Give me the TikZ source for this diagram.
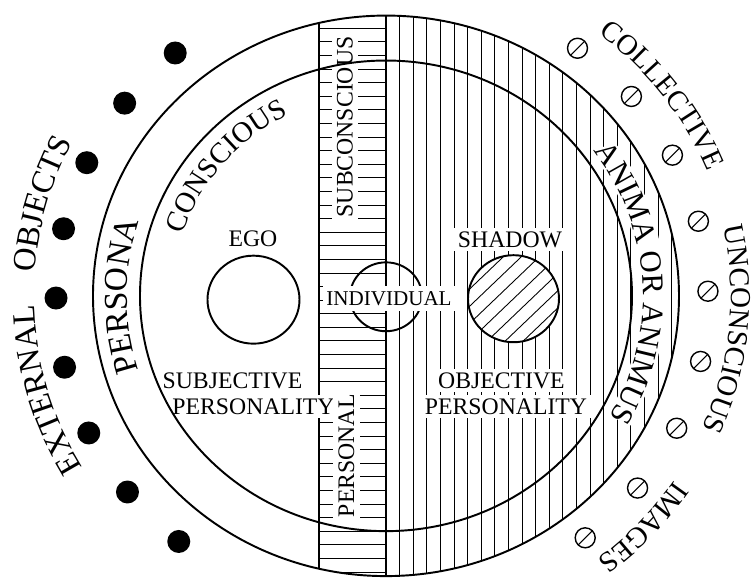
\documentclass[tikz,border=0pt]{standalone}
\usepackage{fontspec}
\setmainfont{Liberation Serif}
\usepackage{tikz}
\usetikzlibrary{decorations.text, calc}

\tikzset{
  ring/.style={line width=1.1pt},
  divider/.style={line width=1.1pt},
  hatch/.style={line width=0.5pt},
  wordband/.style={white, line width=14pt},
  flatlbl/.style={fill=white, inner sep=2pt, font=\fontsize{13.5}{14}\selectfont},
  uplbl/.style={flatlbl, rotate=90, inner xsep=1.5pt, inner ysep=3pt},
  extdot/.style={circle, fill=black, minimum size=0.46cm, inner sep=0pt},
  imgdot/.style={circle, draw, line width=0.8pt, minimum size=0.4cm, inner sep=0pt,
    path picture={\draw[line width=0.6pt] (path picture bounding box.south west)
      -- (path picture bounding box.north east);}}
}

\begin{document}
\begin{tikzpicture}[x=0.02cm, y=0.01914cm]
  \useasboundingbox (-386,-300) rectangle (366,309.3);

  % Hatching and dividers, inside the outer ring
  \begin{scope}
    \clip (0,0) circle[radius=293];
    \foreach \k in {1,...,21}
      \draw[hatch] (13.6*\k,-300) -- (13.6*\k,300);
    \fill[white] (-67,-300) rectangle (0,300);
    \foreach \k in {-1,...,41}
      \draw[hatch] (-67,279.7-14.21*\k) -- (0,279.7-14.21*\k);
    \draw[divider] (0,-300) -- (0,300);
    \draw[divider] (-67,-300) -- (-67,300);
  \end{scope}

  % White room for the words of the right ring
  \draw[wordband] (35.6:267) arc[start angle=35.6, end angle=-29.2, radius=267];

  % Circles inside
  \coordinate (ego) at (-132.5,-4);
  \coordinate (shd) at (127.5,-3);
  \coordinate (ind) at (0,-1);
  \draw[ring] (ego) circle[radius=46];
  \fill[white] (shd) circle[radius=45.5];
  \begin{scope}
    \clip (shd) circle[radius=45.5];
    \foreach \d in {-72,-54,...,72}
      \draw[hatch] ($(shd)+(-60,-60+\d)$) -- ++(120,120);
  \end{scope}
  \draw[ring] (shd) circle[radius=45.5];
  \draw[ring] (ind) circle[radius=36];

  % Labels
  \node[flatlbl] (egolbl) at (-133,59.6) {EGO};
  \node[flatlbl] (shdlbl) at (124,58.5) {SHADOW};
  \node[flatlbl] (subj) at (-153.5,-88.8) {SUBJECTIVE};
  \node[flatlbl] (subjpers) at (-132.5,-115.5) {PERSONALITY};
  \node[flatlbl] (obj) at (115.5,-88.8) {OBJECTIVE};
  \node[flatlbl] (objpers) at (120,-115.5) {PERSONALITY};
  \node[flatlbl, font=\fontsize{12}{13}\selectfont, inner ysep=3pt] (indlbl) at (3,-3.1) {INDIVIDUAL};
  \node[uplbl] (subc) at (-41,176.6) {SUBCONSCIOUS};
  \node[uplbl] (pers) at (-39.5,-167.2) {PERSONAL};

  % Rings
  \draw[ring] (0,0) circle[radius=293];
  \draw[ring] (0,0) circle[radius=246];

  % Objects and images
  \foreach \i in {0,...,8}
    \node[extdot] (ext\i) at ({129.7+12.675*\i}:330) {};
  \foreach \i in {0,...,8}
    \node[imgdot] (img\i) at ({53.5-13.16*\i}:322) {};

  % Text round the rings
  \path[decorate, decoration={text along path, text align=center,
    text={|\fontsize{18.5}{19}\selectfont|EXTERNAL}}]
    (216:352) arc[start angle=216, end angle=176, radius=352];
  \path[decorate, decoration={text along path, text align=center,
    text={|\fontsize{18.5}{19}\selectfont|OBJECTS}}]
    (184.5:352) arc[start angle=184.5, end angle=144.5, radius=352];
  \path[decorate, decoration={text along path, text align=center,
    text={|\fontsize{16.5}{17}\selectfont|COLLECTIVE}}]
    (62:347) arc[start angle=62, end angle=12, radius=347];
  \path[decorate, decoration={text along path, text align=center,
    text={|\fontsize{16.5}{17}\selectfont|UNCONSCIOUS}}]
    (19.2:345) arc[start angle=19.2, end angle=-30.8, radius=345];
  \path[decorate, decoration={text along path, text align=center,
    text={|\fontsize{16.5}{17}\selectfont|IMAGES}}]
    (-18:347) arc[start angle=-18, end angle=-68, radius=347];
  \path[decorate, decoration={text along path, text align=center,
    text={|\fontsize{19}{19}\selectfont|PERSONA}}]
    (210:259) arc[start angle=210, end angle=150, radius=259];
  \path[decorate, decoration={text along path, text align=center,
    text={|\fontsize{16.5}{17}\selectfont|CONSCIOUS}}]
    (170:213) arc[start angle=170, end angle=110, radius=213];
  \path[decorate, decoration={text along path, text align=center,
    text={|\fontsize{17.5}{18}\selectfont|ANIMA OR ANIMUS}}]
    (48.2:257) arc[start angle=48.2, end angle=-41.8, radius=257];
\end{tikzpicture}
\end{document}
